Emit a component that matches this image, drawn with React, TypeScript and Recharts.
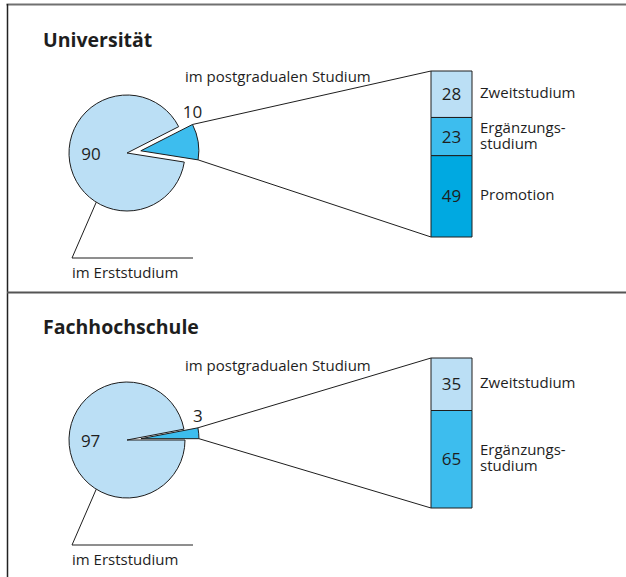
import React from 'react';
import { PieChart, Pie, Cell, BarChart, Bar, XAxis, YAxis, LabelList } from 'recharts';

// shares of students: [im postgradualen Studium, im Erststudium]
const shareNames = ['im postgradualen Studium', 'im Erststudium'];

const uniTitle = 'Universität';
const uniShares = [10, 90];
const uniPostNames = ['Zweitstudium', 'Ergänzungs-\nstudium', 'Promotion'];
const uniPostValues = [28, 23, 49];

const fhTitle = 'Fachhochschule';
const fhShares = [3, 97];
const fhPostNames = ['Zweitstudium', 'Ergänzungs-\nstudium'];
const fhPostValues = [35, 65];

const LIGHT = '#bbdff5';
const MID = '#3dbdee';
const DARK = '#00a9e1';
const INK = '#1e1e1e';
const FONT = '"Open Sans", "DejaVu Sans", sans-serif';

const W = 626;
const PANEL_H = 290;
const RAD = Math.PI / 180;

const polar = (cx, cy, r, a) => [cx + r * Math.cos(a * RAD), cy - r * Math.sin(a * RAD)];

const Panel = ({ title, shares, postNames, postValues, postColors, startAngle, barBottom, postY }) => {
  const cx = 127;
  const cy = 153;
  const r = 58;
  const explode = 14;
  const barX = 431;
  const barW = 41;
  const barTop = 71;

  const total = shares[0] + shares[1];
  const pieData = shares.map((v, i) => ({ name: shareNames[i], value: v }));
  const sliceEnd = startAngle + (360 * shares[0]) / total;
  const mid = (startAngle + sliceEnd) / 2;
  const [ex, ey] = polar(cx, cy, explode, mid);

  const row = { name: title };
  postValues.forEach((v, i) => (row['s' + i] = v));

  const [tx, ty] = polar(ex, ey, r, sliceEnd);
  const [bx, by] = polar(ex, ey, r, startAngle);
  const erstAngle = 238;
  const [px, py] = polar(cx, cy, r, erstAngle);

  const mainLabel = (p) => {
    if (p.index !== 1) return null;
    const [x] = polar(cx, cy, r * 0.63, p.midAngle);
    return (
      <text x={x} y={cy + 7} textAnchor="middle" fontSize={17} fill={INK} fontFamily={FONT}>
        {p.value}
      </text>
    );
  };
  const sliceLabel = (p) => {
    if (p.index !== 0) return null;
    return (
      <text x={tx} y={ty - 6} textAnchor="middle" fontSize={17} fill={INK} fontFamily={FONT}>
        {p.value}
      </text>
    );
  };

  const nameLabel = (name) => (p) => {
    const h = Number(p.height);
    const yc = Number(p.y) + h / 2;
    const lines = name.split('\n');
    const x = Number(p.x) + Number(p.width) + 8;
    return (
      <text x={x} y={yc + 4 - (lines.length - 1) * 8} fontSize={15} fill={INK} fontFamily={FONT}>
        {lines.map((l, i) => (
          <tspan key={i} x={x} dy={i === 0 ? 0 : 16}>
            {l}
          </tspan>
        ))}
      </text>
    );
  };

  return (
    <div style={{ position: 'relative', width: W, height: PANEL_H }}>
      <div style={{ position: 'absolute', left: 0, top: 0 }}>
        <PieChart width={W} height={PANEL_H} margin={{ top: 0, right: 0, bottom: 0, left: 0 }}>
          <Pie
            data={pieData}
            dataKey="value"
            cx={cx}
            cy={cy}
            outerRadius={r}
            startAngle={startAngle}
            endAngle={startAngle + 360}
            label={mainLabel}
            labelLine={false}
            isAnimationActive={false}
          >
            <Cell fill="none" stroke="none" />
            <Cell fill={LIGHT} stroke={INK} strokeWidth={1} />
          </Pie>
          <Pie
            data={pieData}
            dataKey="value"
            cx={ex}
            cy={ey}
            outerRadius={r}
            startAngle={startAngle}
            endAngle={startAngle + 360}
            label={sliceLabel}
            labelLine={false}
            isAnimationActive={false}
          >
            <Cell fill={MID} stroke={INK} strokeWidth={1} />
            <Cell fill="none" stroke="none" />
          </Pie>
        </PieChart>
      </div>
      <div style={{ position: 'absolute', left: 0, top: 0 }}>
        <BarChart
          width={W}
          height={PANEL_H}
          data={[row]}
          barCategoryGap={0}
          margin={{ top: barTop, bottom: PANEL_H - barBottom, left: barX, right: W - barX - barW }}
        >
          <XAxis dataKey="name" hide />
          <YAxis type="number" domain={[0, 100]} reversed hide />
          {postValues.map((v, i) => (
            <Bar
              key={i}
              dataKey={'s' + i}
              stackId="a"
              fill={postColors[i]}
              stroke={INK}
              strokeWidth={1}
              isAnimationActive={false}
            >
              <LabelList dataKey={'s' + i} position="center" fill={INK} fontSize={17} fontFamily={FONT} />
              <LabelList dataKey={'s' + i} content={nameLabel(postNames[i])} />
            </Bar>
          ))}
        </BarChart>
      </div>
      <svg width={W} height={PANEL_H} style={{ position: 'absolute', left: 0, top: 0 }}>
        <text x={43} y={47} fontSize={19.5} fontWeight="bold" fill={INK} fontFamily={FONT}>
          {title}
        </text>
        <text x={185} y={postY} fontSize={15} fill={INK} fontFamily={FONT}>
          {shareNames[0]}
        </text>
        <line x1={tx} y1={ty} x2={barX} y2={barTop} stroke={INK} strokeWidth={1} />
        <line x1={bx} y1={by} x2={barX} y2={barBottom} stroke={INK} strokeWidth={1} />
        <polyline points={`${px},${py} 72,258 193,258`} fill="none" stroke={INK} strokeWidth={1} />
        <text x={72} y={278} fontSize={15} fill={INK} fontFamily={FONT}>
          {shareNames[1]}
        </text>
      </svg>
    </div>
  );
};

export default function App() {
  return (
    <div style={{ position: 'absolute', left: 0, top: 0, width: W, height: 577, background: '#fff', overflow: 'hidden' }}>
      <div style={{ position: 'absolute', left: 0, top: 0 }}>
        <Panel
          title={uniTitle}
          shares={uniShares}
          postNames={uniPostNames}
          postValues={uniPostValues}
          postColors={[LIGHT, MID, DARK]}
          startAngle={-9}
          barBottom={237}
          postY={82}
        />
      </div>
      <div style={{ position: 'absolute', left: 0, top: 287 }}>
        <Panel
          title={fhTitle}
          shares={fhShares}
          postNames={fhPostNames}
          postValues={fhPostValues}
          postColors={[LIGHT, MID]}
          startAngle={0}
          barBottom={221}
          postY={84}
        />
      </div>
      <svg width={W} height={577} style={{ position: 'absolute', left: 0, top: 0 }}>
        <line x1={6.5} y1={4.5} x2={W} y2={4.5} stroke="#707070" strokeWidth={2} />
        <line x1={7.5} y1={4} x2={7.5} y2={577} stroke="#222" strokeWidth={1.5} />
        <line x1={7} y1={292.5} x2={W} y2={292.5} stroke="#555" strokeWidth={2} />
      </svg>
    </div>
  );
}
